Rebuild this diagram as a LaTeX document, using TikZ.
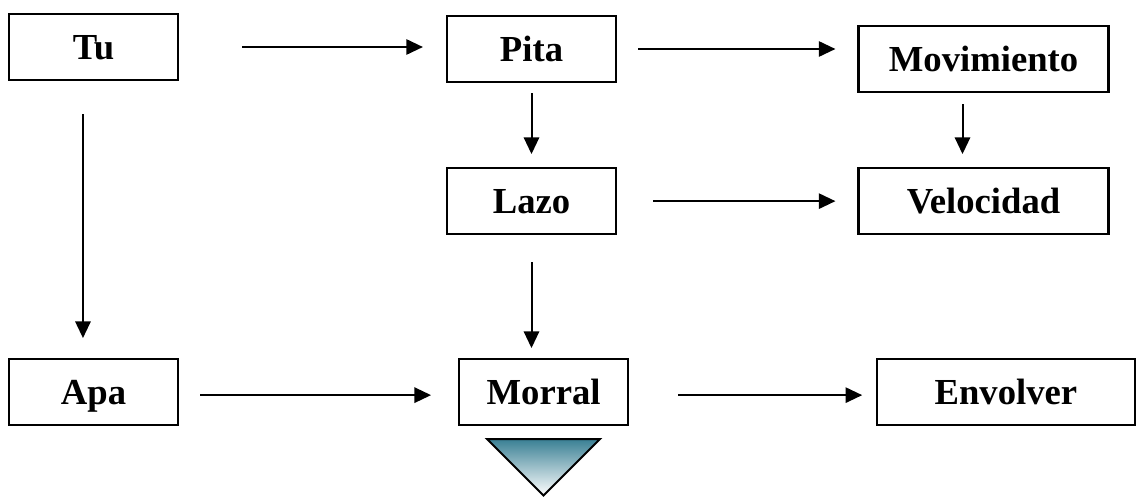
\documentclass[tikz,border=0pt]{standalone}
\usepackage{fontspec}
\setmainfont{Liberation Serif}
\usetikzlibrary{arrows.meta,positioning}
\definecolor{funneltop}{RGB}{58,128,148}

\begin{document}
\begin{tikzpicture}[
  x=0.75pt, y=-0.75pt,
  >={Triangle[length=12.5pt,width=11.5pt]},
  line width=1.5pt,
  block/.style={rectangle, draw=black, line width=1.6pt, minimum width=126.75pt, minimum height=49.5pt, text height=18pt, text depth=0pt, align=center, font=\bfseries\fontsize{27.5}{33}\selectfont},
  wideblock/.style={block, minimum width=187.5pt},
  flow/.style={->, draw=black, line width=1.5pt}
]
  \useasboundingbox (0,0) rectangle (1138,496);
  \node[block] (tu) at (93.5,47) {Tu};
  \node[block] (pita) at (531.5,49) {Pita};
  \node[wideblock] (mov) at (983.5,59) {Movimiento};
  \node[block, below=63pt of pita] (lazo) {Lazo};
  \node[wideblock, below=55.5pt of mov] (vel) {Velocidad};
  \node[block, below=207.75pt of tu] (apa) {Apa};
  \node[block, right=209.25pt of apa] (morral) {Morral};
  \node[block, right=185.25pt of morral, minimum width=193pt] (env) {Envolver};
  \coordinate (tuout) at ([xshift=-7.9pt]tu.south);
  \coordinate (movout) at ([xshift=-15.75pt]mov.south);
  \coordinate (apaout) at ([yshift=-2.25pt]apa.east);
  \coordinate (morout) at ([yshift=-2.25pt]morral.east);
  \draw[flow, shorten <=47.25pt, shorten >=17.25pt] (tu.east) -- (tu.east -| pita.west);
  \draw[flow, shorten <=15.75pt, shorten >=16.5pt] (pita.east) -- (pita.east -| mov.west);
  \draw[flow, shorten <=7.5pt, shorten >=9.75pt] (pita.south) -- (pita.south |- lazo.north);
  \draw[flow, shorten <=8.25pt, shorten >=9.75pt] (movout) -- (movout |- vel.north);
  \draw[flow, shorten <=27pt, shorten >=16.5pt] (lazo.east) -- (lazo.east -| vel.west);
  \draw[flow, shorten <=24.75pt, shorten >=15pt] (tuout) -- (tuout |- apa.north);
  \draw[flow, shorten <=20.25pt, shorten >=7.5pt] (lazo.south) -- (lazo.south |- morral.north);
  \draw[flow, shorten <=15.75pt, shorten >=20.25pt] (apaout) -- (apaout -| morral.west);
  \draw[flow, shorten <=36.75pt, shorten >=10.5pt] (morout) -- (morout -| env.west);
  % funnel under Morral
  \shadedraw[top color=funneltop, bottom color=white, line width=1.5pt] (487,439) -- (600,439) -- (543.5,495.5) -- cycle;
\end{tikzpicture}
\end{document}
